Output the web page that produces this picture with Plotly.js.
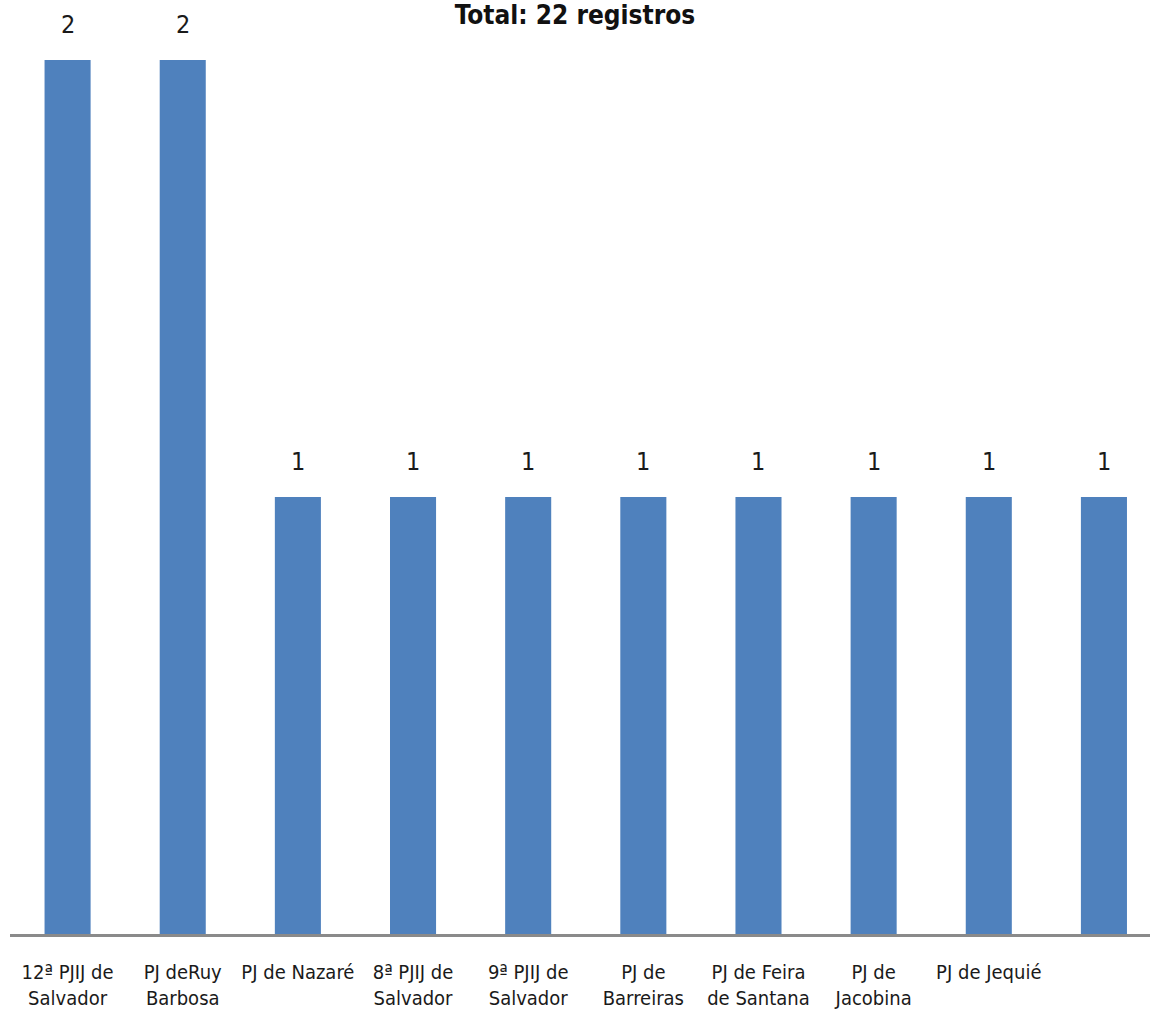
<!DOCTYPE html>
<html>
<head>
<meta charset="utf-8">
<script src="https://cdn.plot.ly/plotly-3.0.1.min.js"></script>
<style>
html,body{margin:0;padding:0;background:#fff;}
#chart{width:1150px;height:1016px;}
</style>
</head>
<body>
<div id="chart"></div>
<script>
var categories = ["12ª PJIJ de<br>Salvador", "PJ deRuy<br>Barbosa", "PJ de Nazaré", "8ª PJIJ de<br>Salvador", "9ª PJIJ de<br>Salvador", "PJ de<br>Barreiras", "PJ de Feira<br>de Santana", "PJ de<br>Jacobina", "PJ de Jequié", ""];
var values = [2, 2, 1, 1, 1, 1, 1, 1, 1, 1];
var titleText = "Total: 22 registros";

var FONT = "'Liberation Sans Narrow', 'DejaVu Sans Condensed', 'Arial Narrow', sans-serif";
var idx = categories.map(function(_, i){ return i; });

var trace = {
  type: "bar",
  x: idx,
  y: values,
  width: 0.4,
  marker: {color: "#4f81bd"},
  hoverinfo: "skip"
};

var annotations = values.map(function(v, i){
  return {
    x: i, y: v, xref: "x", yref: "y",
    text: String(v),
    showarrow: false,
    yanchor: "bottom",
    yshift: 19,
    font: {family: FONT, size: 25, color: "#1a1a1a"}
  };
});

var layout = {
  width: 1150, height: 1016,
  margin: {l: 10, r: 0, t: 0, b: 82},
  paper_bgcolor: "#ffffff",
  plot_bgcolor: "#ffffff",
  showlegend: false,
  title: {
    text: "<b>" + titleText + "</b>",
    x: 0.5, xanchor: "center",
    y: 0.985, yanchor: "middle",
    font: {family: FONT, size: 26, color: "#111111"}
  },
  xaxis: {
    range: [-0.5, 9.4],
    tickmode: "array",
    tickvals: idx,
    ticktext: categories,
    showline: true,
    linecolor: "#8a8a8a",
    linewidth: 3,
    ticks: "outside",
    ticklen: 18,
    tickcolor: "rgba(0,0,0,0)",
    showgrid: false,
    zeroline: false,
    tickfont: {family: FONT, size: 20, color: "#1a1a1a"},
    fixedrange: true
  },
  yaxis: {
    range: [0, 2.137],
    visible: false,
    showgrid: false,
    zeroline: false,
    fixedrange: true
  },
  annotations: annotations
};

Plotly.newPlot("chart", [trace], layout, {displayModeBar: false, staticPlot: true});
</script>
</body>
</html>
